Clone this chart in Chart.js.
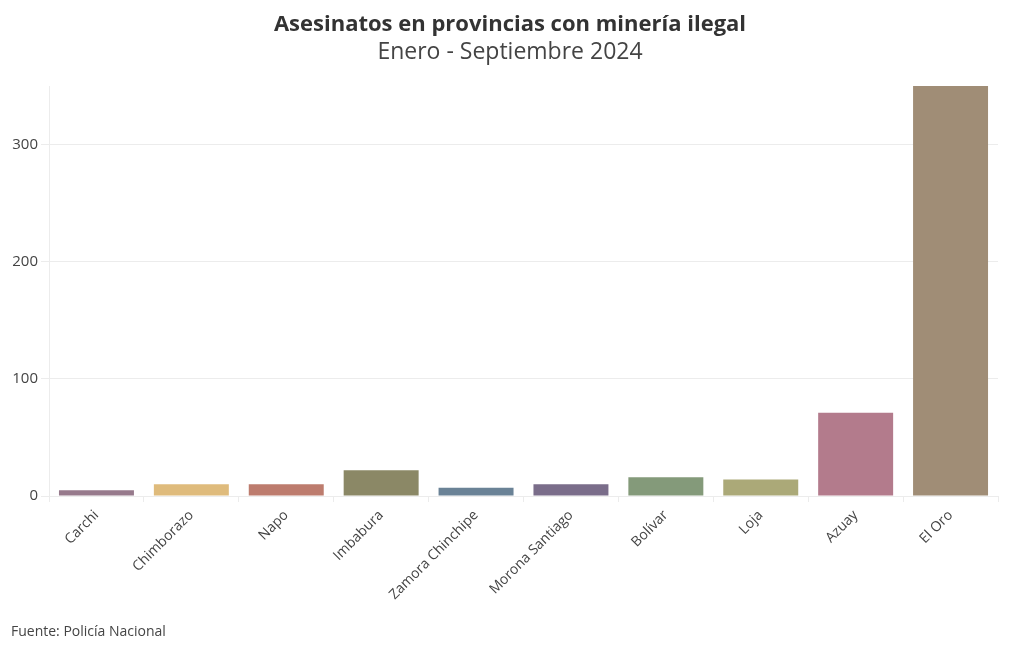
<!DOCTYPE html>
<html>
<head>
<meta charset="utf-8">
<script src="https://cdn.jsdelivr.net/npm/chart.js@4.4.1/dist/chart.umd.min.js"></script>
<style>
  html, body { margin: 0; padding: 0; background: #fff; }
  #wrap { position: relative; width: 1020px; height: 650px; }
  #fuente {
    position: absolute; left: 11px; top: 621px;
    font-family: 'Open Sans', sans-serif; font-size: 14px; color: #444;
  }
</style>
</head>
<body>
<div id="wrap">
  <canvas id="chart" width="1020" height="650"></canvas>
  <div id="fuente">Fuente: Policía Nacional</div>
</div>
<script>
// --- DATA ---
const provincias = ['Carchi', 'Chimborazo', 'Napo', 'Imbabura', 'Zamora Chinchipe',
  'Morona Santiago', 'Bolívar', 'Loja', 'Azuay', 'El Oro'];
const asesinatos = [5, 10, 10, 22, 7, 10, 16, 14, 71, 350];
const yTicks = [0, 100, 200, 300];

const barColors = ['#977a8c', '#dfbb7c', '#bd7c6e', '#8b8866', '#6a8296',
  '#7a6d8a', '#849a7a', '#aba978', '#b37b8c', '#a08d76'];

const textColor = '#444';
const gridColor = '#ececec';

new Chart(document.getElementById('chart').getContext('2d'), {
  type: 'bar',
  data: {
    labels: provincias,
    datasets: [{
      label: 'Asesinatos',
      data: asesinatos,
      backgroundColor: barColors,
      borderWidth: 0,
      barPercentage: 0.79,
      categoryPercentage: 1.0
    }]
  },
  options: {
    responsive: false,
    animation: false,
    layout: { padding: { left: 0, right: 0, top: 0, bottom: 40 } },
    plugins: {
      legend: { display: false },
      tooltip: { enabled: false },
      title: {
        display: true,
        text: 'Asesinatos en provincias con minería ilegal',
        color: '#333',
        font: { family: 'Open Sans', size: 22, weight: 'bold', lineHeight: 1.2 },
        padding: { top: 12, bottom: 0 }
      },
      subtitle: {
        display: true,
        text: 'Enero - Septiembre 2024',
        color: '#444',
        font: { family: 'Open Sans', size: 23, weight: 'normal', lineHeight: 1.2 },
        padding: { top: 0, bottom: 20 }
      }
    },
    scales: {
      x: {
        grid: { display: true, drawOnChartArea: false, color: gridColor, tickLength: 6 },
        border: { color: gridColor },
        ticks: {
          color: textColor,
          font: { family: 'Open Sans', size: 14 },
          maxRotation: 45, minRotation: 45, padding: 5
        },
        afterFit: (scale) => { scale.height = 114; }
      },
      y: {
        min: 0,
        max: Math.max(...asesinatos),
        afterBuildTicks: (scale) => { scale.ticks = yTicks.map(v => ({ value: v })); },
        grid: { color: gridColor, tickLength: 8 },
        border: { color: gridColor },
        ticks: {
          color: textColor,
          font: { family: 'Open Sans', size: 15 },
          padding: 3
        },
        afterFit: (scale) => { scale.width = 49; }
      },
      // empty right-hand spacer so the plot ends at x=998 while titles stay centred on the page
      spacer: {
        type: 'linear',
        position: 'right',
        grid: { display: false },
        border: { display: false },
        ticks: { display: false },
        afterFit: (scale) => { scale.width = 22; }
      }
    }
  }
});
</script>
</body>
</html>
